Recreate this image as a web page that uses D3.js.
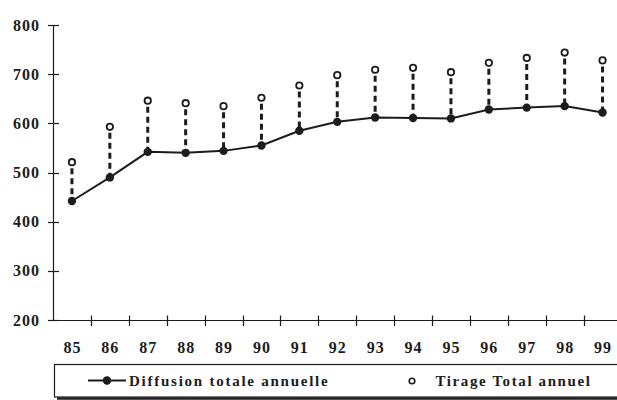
<!DOCTYPE html>
<html><head><meta charset="utf-8">
<script src="https://cdn.jsdelivr.net/npm/d3@7"></script>
<style>html,body{margin:0;padding:0;background:#fff;}svg{display:block;}</style>
</head><body>
<svg id="chart" width="617" height="400"></svg>
<script>
const years = ["85","86","87","88","89","90","91","92","93","94","95","96","97","98","99"];
const diffusion = [442, 490, 542, 540, 544, 555, 585, 603, 612, 611, 610, 628, 632, 635, 622];
const tirage = [521, 593, 646, 641, 635, 652, 677, 698, 709, 713, 704, 723, 733, 744, 728];
const yTicks = [200, 300, 400, 500, 600, 700, 800];
const legendLabels = ["Diffusion totale annuelle", "Tirage Total annuel"];

const ink = "#1c1c1c";
const font = "'Liberation Serif','Times New Roman',serif";
const svg = d3.select("#chart");

const x = d3.scaleBand().domain(years).range([53, 53 + 37.9 * 15]).padding(0);
const y = d3.scaleLinear().domain([200, 800]).range([320, 25]);
const cx = d => x(d) + x.bandwidth() / 2;

// Y axis
svg.append("line").attr("x1", 53.5).attr("x2", 53.5).attr("y1", y(800)).attr("y2", y(200))
  .attr("stroke", ink).attr("stroke-width", 1.2);
svg.selectAll(".yt").data(yTicks).enter().append("line")
  .attr("x1", 48).attr("x2", 59).attr("y1", d => Math.round(y(d)) + 0.5).attr("y2", d => Math.round(y(d)) + 0.5)
  .attr("stroke", ink).attr("stroke-width", 1.2);
svg.selectAll(".yl").data(yTicks).enter().append("text")
  .attr("x", 40).attr("y", d => y(d) + 5.5)
  .attr("text-anchor", "end").attr("font-family", font).attr("font-weight", "bold")
  .attr("font-size", 16).attr("letter-spacing", 1).attr("fill", ink)
  .text(d => d);

// X axis
svg.append("line").attr("x1", 53).attr("x2", 617).attr("y1", 320.5).attr("y2", 320.5)
  .attr("stroke", ink).attr("stroke-width", 1.2);
svg.selectAll(".xt").data(years.slice(1)).enter().append("line")
  .attr("x1", d => Math.round(x(d)) + 0.5).attr("x2", d => Math.round(x(d)) + 0.5)
  .attr("y1", 315.5).attr("y2", 326)
  .attr("stroke", ink).attr("stroke-width", 1.2);
svg.selectAll(".xl").data(years).enter().append("text")
  .attr("x", d => cx(d) + 0.5).attr("y", 352.5)
  .attr("text-anchor", "middle").attr("font-family", font).attr("font-weight", "bold")
  .attr("font-size", 16).attr("letter-spacing", 1).attr("fill", ink)
  .text(d => d);

// Dotted connectors
svg.selectAll(".conn").data(years).enter().append("line")
  .attr("x1", d => cx(d)).attr("x2", d => cx(d))
  .attr("y1", (d, i) => y(tirage[i]) + 6).attr("y2", (d, i) => y(diffusion[i]))
  .attr("stroke", ink).attr("stroke-width", 3).attr("stroke-dasharray", "6,4");

// Diffusion line
const line = d3.line().x((d, i) => cx(years[i])).y(d => y(d));
svg.append("path").datum(diffusion).attr("d", line)
  .attr("fill", "none").attr("stroke", ink).attr("stroke-width", 2);
svg.selectAll(".dot").data(diffusion).enter().append("circle")
  .attr("cx", (d, i) => cx(years[i])).attr("cy", d => y(d)).attr("r", 4.2)
  .attr("fill", ink);

// Tirage circles
svg.selectAll(".open").data(tirage).enter().append("circle")
  .attr("cx", (d, i) => cx(years[i])).attr("cy", d => y(d)).attr("r", 3.2)
  .attr("fill", "#fff").attr("stroke", ink).attr("stroke-width", 1.8);

// Legend
const lg = svg.append("g");
lg.append("line").attr("x1", 57).attr("x2", 617).attr("y1", 398.5).attr("y2", 398.5)
  .attr("stroke", ink).attr("stroke-width", 2.5);
lg.append("rect").attr("x", 54.5).attr("y", 364.5).attr("width", 600).attr("height", 32.5)
  .attr("fill", "#fff").attr("stroke", ink).attr("stroke-width", 1.2);
lg.append("line").attr("x1", 88).attr("x2", 126).attr("y1", 380.5).attr("y2", 380.5)
  .attr("stroke", ink).attr("stroke-width", 2);
lg.append("circle").attr("cx", 107).attr("cy", 380.5).attr("r", 4.2).attr("fill", ink);
lg.append("text").attr("x", 129).attr("y", 386)
  .attr("font-family", font).attr("font-weight", "bold").attr("font-size", 15)
  .attr("letter-spacing", 1.75).attr("fill", ink).text(legendLabels[0]);
lg.append("circle").attr("cx", 412).attr("cy", 381).attr("r", 2.8)
  .attr("fill", "#fff").attr("stroke", ink).attr("stroke-width", 1.6);
lg.append("text").attr("x", 435.5).attr("y", 386)
  .attr("font-family", font).attr("font-weight", "bold").attr("font-size", 15)
  .attr("letter-spacing", 1.6).attr("fill", ink).text(legendLabels[1]);
</script>
</body></html>
